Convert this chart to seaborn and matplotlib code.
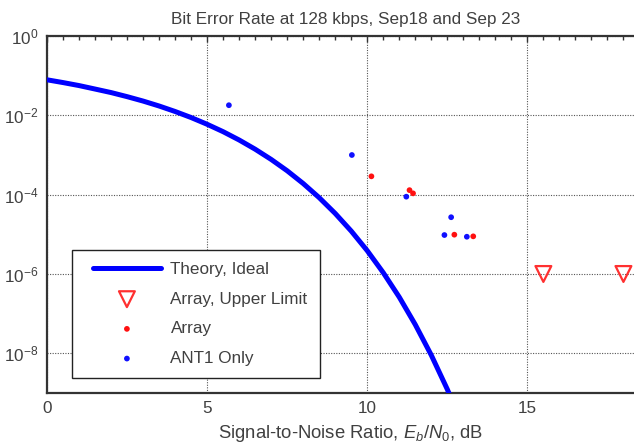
import numpy as np
import pandas as pd
import matplotlib
matplotlib.use("Agg")
import matplotlib.pyplot as plt
from matplotlib.lines import Line2D
from matplotlib.legend_handler import HandlerLine2D
import seaborn as sns

# ---- data ----
theory_snr = [0, 0.5, 1, 1.5, 2, 2.5, 3, 3.5, 4, 4.5, 5, 5.5, 6, 6.5, 7, 7.5,
              8, 8.5, 9, 9.5, 10, 10.5, 11, 11.5, 12, 12.5, 13]
theory_ber = [7.87e-2, 6.7e-2, 5.63e-2, 4.6e-2, 3.75e-2, 2.96e-2, 2.29e-2,
              1.72e-2, 1.25e-2, 8.8e-3, 5.95e-3, 3.87e-3, 2.39e-3, 1.40e-3,
              7.73e-4, 4.0e-4, 1.91e-4, 8.4e-5, 3.36e-5, 1.21e-5, 3.87e-6,
              1.08e-6, 2.61e-7, 5.3e-8, 9.0e-9, 1.24e-9, 1.37e-10]

limit_snr = [15.5, 18.0]
limit_ber = [1e-6, 1e-6]

array_snr = [10.13, 11.32, 11.43, 12.72, 13.31]
array_ber = [2.9e-4, 1.3e-4, 1.08e-4, 9.8e-6, 8.9e-6]

ant1_snr = [5.68, 9.52, 11.22, 12.62, 12.41, 13.11]
ant1_ber = [1.8e-2, 1.0e-3, 8.9e-5, 2.7e-5, 9.6e-6, 8.7e-6]

title = "Bit Error Rate at 128 kbps, Sep18 and Sep 23"
xlabel = r"Signal-to-Noise Ratio, $\mathit{E}_\mathit{b}\mathit{/N}_0$, dB"

# ---- style ----
sns.set_theme(style="white")
txt = "#404040"
fs = 12.3
plt.rcParams["font.family"] = ["Liberation Sans", "DejaVu Sans"]
plt.rcParams["mathtext.fontset"] = "custom"
plt.rcParams["mathtext.rm"] = "Liberation Sans"
plt.rcParams["mathtext.it"] = "Liberation Sans:italic"
plt.rcParams["mathtext.default"] = "regular"
plt.rcParams["text.color"] = txt
plt.rcParams["axes.labelcolor"] = txt
plt.rcParams["xtick.color"] = "#333333"
plt.rcParams["ytick.color"] = "#333333"
plt.rcParams["xtick.labelcolor"] = txt
plt.rcParams["ytick.labelcolor"] = txt

fig = plt.figure(figsize=(6.34, 4.45), dpi=100)
ax = fig.add_axes([47 / 634, 1 - 393 / 445, (634 - 47) / 634, (393 - 36) / 445])

df_t = pd.DataFrame({"snr": theory_snr, "ber": theory_ber})
sns.lineplot(data=df_t, x="snr", y="ber", ax=ax, color=(0, 0, 1), lw=3.6,
             label="Theory, Ideal", zorder=3, sort=False)

df_l = pd.DataFrame({"snr": limit_snr, "ber": limit_ber})
sns.scatterplot(data=df_l, x="snr", y="ber", ax=ax, marker="v", s=130,
                facecolor="none", edgecolor="#ff3030", linewidth=1.6,
                label="Array, Upper Limit", zorder=4, clip_on=False)

df_a = pd.DataFrame({"snr": array_snr, "ber": array_ber})
sns.scatterplot(data=df_a, x="snr", y="ber", ax=ax, marker="o", s=17,
                color="#ff1010", edgecolor="none", label="Array", zorder=4)

df_b = pd.DataFrame({"snr": ant1_snr, "ber": ant1_ber})
sns.scatterplot(data=df_b, x="snr", y="ber", ax=ax, marker="o", s=17,
                color="#1010ff", edgecolor="none", label="ANT1 Only", zorder=4)

ax.set_yscale("log")
ax.set_xlim(0, 18.33)
ax.set_ylim(1e-9, 1)
ax.set_xticks([0, 5, 10, 15])
ax.set_xticks(np.arange(0, 18.5, 0.5), minor=True)
ax.set_yticks([1e0, 1e-2, 1e-4, 1e-6, 1e-8])
ax.yaxis.set_minor_locator(matplotlib.ticker.NullLocator())

ax.grid(True, which="major", color="#555555", linestyle=(0, (1, 1.3)), lw=0.8)
for s in ["left", "bottom", "top"]:
    ax.spines[s].set_color("#333333")
    ax.spines[s].set_linewidth(1.6)
ax.spines["right"].set_visible(False)
ax.tick_params(axis="both", which="both", direction="in", top=True,
               labelsize=fs, pad=6)
ax.tick_params(axis="x", which="major", length=4, width=1)
ax.tick_params(axis="x", which="minor", length=3, width=1)
ax.tick_params(axis="y", which="major", length=0)

ax.set_title(title, fontsize=fs, color=txt, pad=8.5, x=0.508)
ax.set_xlabel(xlabel, fontsize=13.3, labelpad=5, x=0.518)
ax.set_ylabel("")

handles, labels = ax.get_legend_handles_labels()
leg = ax.legend(handles, labels, loc="lower left", bbox_to_anchor=(0.043, 0.042),
                fontsize=fs, frameon=True, fancybox=False, edgecolor="#222222",
                framealpha=1, handlelength=5.0, handletextpad=0.05,
                borderpad=0.7, labelspacing=0.86, borderaxespad=0,
                handler_map={Line2D: HandlerLine2D(numpoints=2, marker_pad=0.5)})
leg.get_frame().set_linewidth(1.0)
for t in leg.get_texts():
    t.set_color(txt)

fig.savefig("out.png", dpi=100)
